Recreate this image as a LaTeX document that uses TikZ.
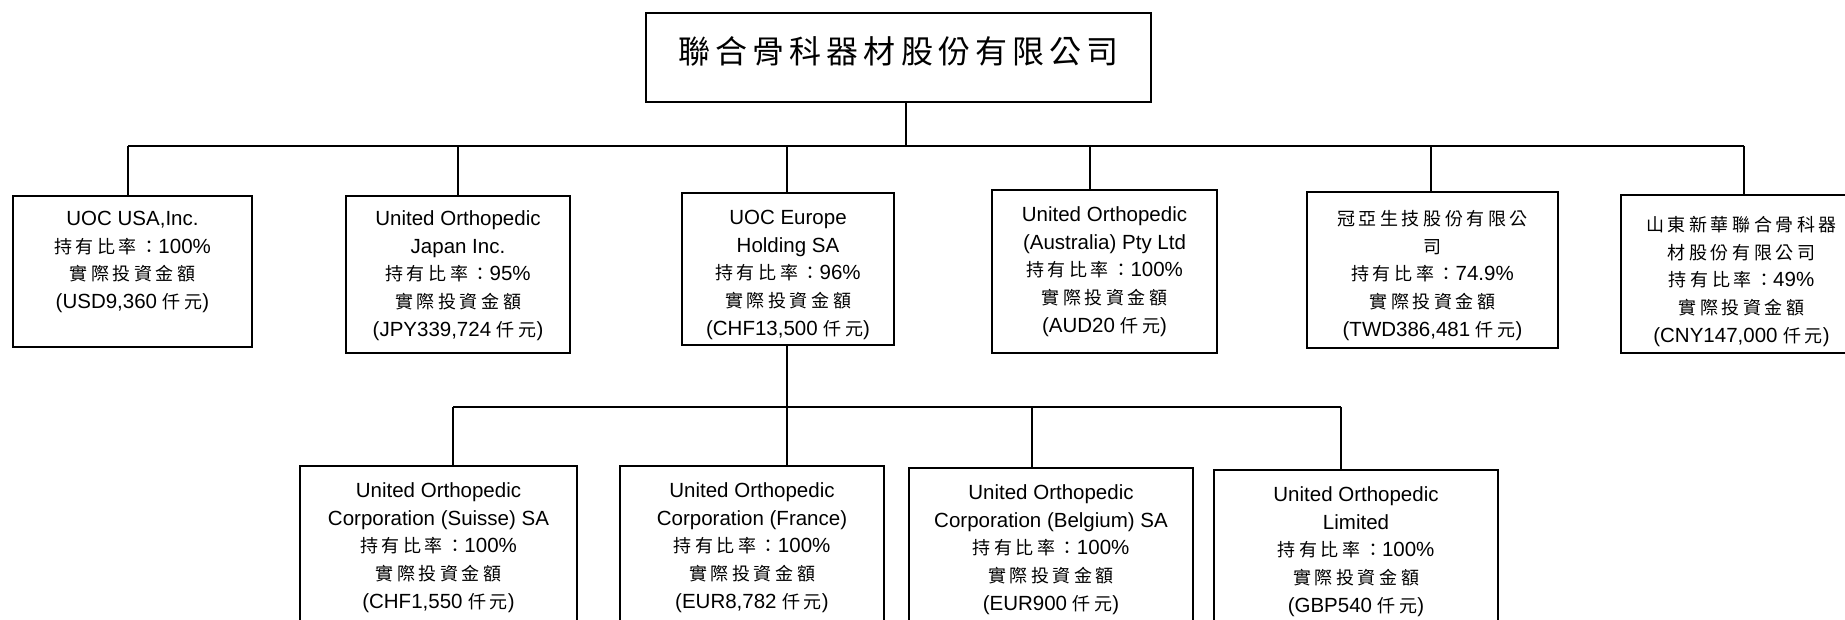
\documentclass[tikz,border=0pt]{standalone}
\usepackage{fontspec}
\setmainfont{Liberation Sans}
\newfontfamily\cjkfont[LetterSpace=20]{Noto Sans CJK TC}
\newfontfamily\cjktitle[LetterSpace=16]{Noto Sans CJK TC}
\newcommand\cj[1]{{\cjkfont\fontsize{9}{13.8}\selectfont #1}}
\newcommand\mkbox[5]{\node[boxst, minimum width={(#4-#2)*0.5pt}, minimum height={(#5-#3)*0.5pt}] (#1) at ({(#2+#4)/2},{(#3+#5)/2}) {};}
\tikzset{
  boxst/.style={draw, line width=1pt, inner sep=0pt, rectangle},
  txt/.style={align=center, inner sep=0pt, font=\fontsize{10.25}{13.8}\selectfont, anchor=north},
  conn/.style={line width=0.9pt}
}
\begin{document}
\begin{tikzpicture}[x=0.5pt,y=-0.5pt]
\useasboundingbox (0,0) rectangle (1845,620);
% top
\mkbox{top}{646}{13}{1151}{102}
\node[font=\cjktitle\fontsize{16}{18}\selectfont, inner sep=0pt] (title) at (898.5,51) {聯合骨科器材股份有限公司};
% row 1
\mkbox{b1}{13}{196}{252}{347}
\mkbox{b2}{346}{196}{570}{353}
\mkbox{b3}{682}{193}{894}{345}
\mkbox{b4}{992}{190}{1217}{353}
\mkbox{b5}{1307}{192}{1558}{348}
\mkbox{b6}{1621}{195}{1862}{353}
\node[txt] (t1) at ([yshift=-5.5pt]b1.north) {\strut UOC USA,Inc.\\ \cj{持有比率：}100\%\\ \cj{實際投資金額}\\ (USD9,360 \cj{仟元})};
\node[txt] (t2) at ([yshift=-5.5pt]b2.north) {\strut United Orthopedic\\ Japan Inc.\\ \cj{持有比率：}95\%\\ \cj{實際投資金額}\\ (JPY339,724 \cj{仟元})};
\node[txt] (t3) at ([yshift=-6.5pt]b3.north) {\strut UOC Europe\\ Holding SA\\ \cj{持有比率：}96\%\\ \cj{實際投資金額}\\ (CHF13,500 \cj{仟元})};
\node[txt] (t4) at ([yshift=-6.5pt]b4.north) {\strut United Orthopedic\\ (Australia) Pty Ltd\\ \cj{持有比率：}100\%\\ \cj{實際投資金額}\\ (AUD20 \cj{仟元})};
\node[txt] (t5) at ([yshift=-7.5pt]b5.north) {\strut \cj{冠亞生技股份有限公}\\ \cj{司}\\ \cj{持有比率：}74.9\%\\ \cj{實際投資金額}\\ (TWD386,481 \cj{仟元})};
\node[txt] (t6) at ([yshift=-9pt]b6.north) {\strut \cj{山東新華聯合骨科器}\\ \cj{材股份有限公司}\\ \cj{持有比率：}49\%\\ \cj{實際投資金額}\\ (CNY147,000 \cj{仟元})};
% row 2
\mkbox{s1}{300}{466}{577}{640}
\mkbox{s2}{620}{466}{884}{640}
\mkbox{s3}{909}{468}{1193}{640}
\mkbox{s4}{1214}{470}{1498}{640}
\node[txt] (u1) at ([yshift=-6.5pt]s1.north) {\strut United Orthopedic\\ Corporation (Suisse) SA\\ \cj{持有比率：}100\%\\ \cj{實際投資金額}\\ (CHF1,550 \cj{仟元})};
\node[txt] (u2) at ([yshift=-6.5pt]s2.north) {\strut United Orthopedic\\ Corporation (France)\\ \cj{持有比率：}100\%\\ \cj{實際投資金額}\\ (EUR8,782 \cj{仟元})};
\node[txt] (u3) at ([yshift=-6.5pt]s3.north) {\strut United Orthopedic\\ Corporation (Belgium) SA\\ \cj{持有比率：}100\%\\ \cj{實際投資金額}\\ (EUR900 \cj{仟元})};
\node[txt] (u4) at ([yshift=-6.5pt]s4.north) {\strut United Orthopedic\\ Limited\\ \cj{持有比率：}100\%\\ \cj{實際投資金額}\\ (GBP540 \cj{仟元})};
% connectors level 1
\coordinate (j0) at (906,146);
\draw[conn] (top.south -| j0) -- (j0);
\coordinate (d1) at (128,146);
\coordinate (d2) at (458,146);
\coordinate (d3) at (787,146);
\coordinate (d4) at (1090,146);
\coordinate (d5) at (1431,146);
\coordinate (d6) at (1744,146);
\draw[conn] (d1) -- (d6);
\foreach \i in {1,...,6} {\draw[conn] (d\i) -- (d\i |- b\i.north);}
% connectors level 2
\coordinate (e1) at (453,407);
\coordinate (e2) at (787,407);
\coordinate (e3) at (1032,407);
\coordinate (e4) at (1341,407);
\draw[conn] (b3.south -| e2) -- (e2);
\draw[conn] (e1) -- (e4);
\foreach \i in {1,...,4} {\draw[conn] (e\i) -- (e\i |- s\i.north);}
\end{tikzpicture}
\end{document}
